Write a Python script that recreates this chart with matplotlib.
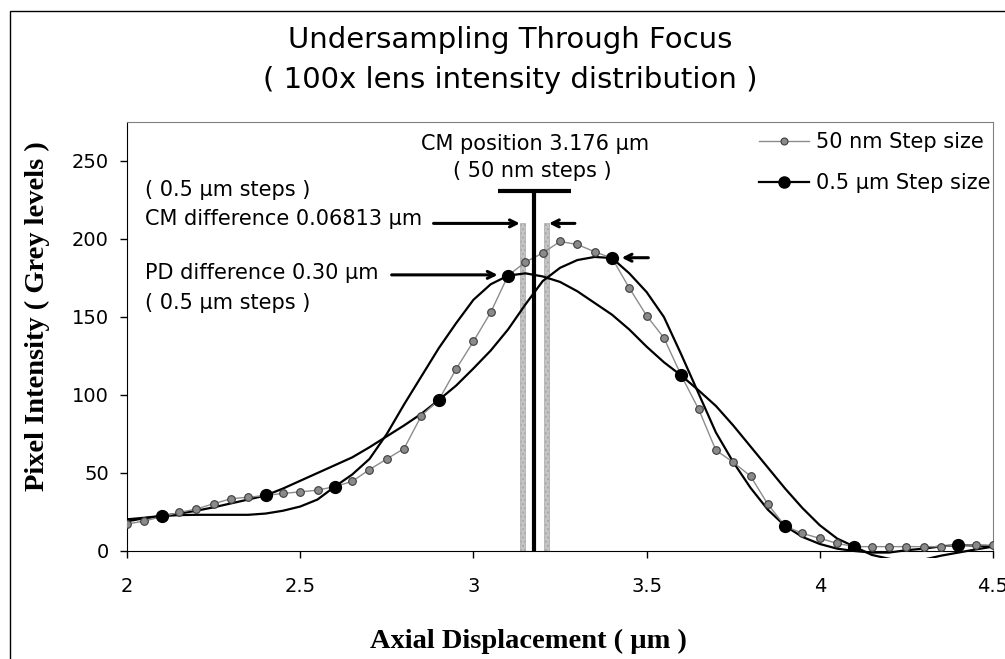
import matplotlib
matplotlib.use("Agg")
import matplotlib.pyplot as plt
from matplotlib.lines import Line2D
from matplotlib.patches import Rectangle
from matplotlib.transforms import Bbox, TransformedBbox

plt.rcParams['font.family'] = ['DejaVu Sans']

# axial positions of the 50 nm scan (um)
z_fine = [2.00, 2.05, 2.10, 2.15, 2.20, 2.25, 2.30, 2.35, 2.40, 2.45,
          2.50, 2.55, 2.60, 2.65, 2.70, 2.75, 2.80, 2.85, 2.90, 2.95,
          3.00, 3.05, 3.10, 3.15, 3.20, 3.25, 3.30, 3.35, 3.40, 3.45,
          3.50, 3.55, 3.60, 3.65, 3.70, 3.75, 3.80, 3.85, 3.90, 3.95,
          4.00, 4.05, 4.10, 4.15, 4.20, 4.25, 4.30, 4.35, 4.40, 4.45,
          4.50]

# 50 nm step intensities (grey levels)
i_fine = [17.3, 19.2, 22.0, 24.7, 26.9, 30.3, 33.5, 34.5, 35.6, 36.9,
          37.9, 39.0, 41.3, 44.6, 52.2, 59.0, 65.7, 86.8, 96.8, 116.6,
          134.3, 153.0, 176.5, 185.2, 191.0, 198.4, 196.5, 191.8, 187.8, 168.6,
          150.9, 136.6, 112.5, 91.0, 64.6, 56.9, 48.0, 30.0, 16.0, 11.3,
          8.1, 4.9, 2.8, 2.8, 2.8, 2.8, 2.8, 2.8, 3.8, 3.8,
          3.8]

# 0.5 um step samples, two interleaved sets
z_set_a = [2.1, 2.6, 3.1, 3.6, 4.1]
i_set_a = [22.4, 41.3, 176.5, 112.5, 2.8]
z_set_b = [2.4, 2.9, 3.4, 3.9, 4.4]
i_set_b = [35.6, 96.8, 187.8, 16.0, 3.8]

# smoothed reconstructions of each 0.5 um set, read at the 50 nm positions
curve_a = [19.0, 21.0, 22.4, 23.0, 23.2, 23.2, 23.2, 23.2, 24.0, 25.8,
           28.5, 33.0, 41.3, 49.0, 59.0, 75.0, 94.0, 112.0, 130.0, 146.0,
           161.0, 171.0, 176.5, 178.0, 176.0, 172.5, 166.5, 159.0, 151.5, 142.0,
           131.0, 121.0, 112.5, 103.0, 93.0, 80.5, 67.0, 53.5, 40.0, 27.5,
           16.5, 8.0, 2.8, -2.5, -5.0, -6.5, -5.5, -3.0, -1.0, 1.0,
           2.8]
curve_b = [20.3, 21.3, 22.5, 24.0, 25.8, 28.0, 30.5, 33.0, 35.6, 40.0,
           45.0, 50.0, 55.0, 60.0, 66.5, 73.5, 80.5, 88.0, 96.8, 106.0,
           117.0, 128.5, 142.0, 158.0, 173.0, 181.5, 186.5, 188.5, 187.8, 178.0,
           166.0, 150.0, 126.0, 101.0, 76.0, 57.0, 40.5, 26.5, 16.0, 9.0,
           4.5, 1.5, 0.0, -1.0, -1.0, 0.5, 1.5, 3.0, 3.8, 3.5,
           3.0]

cm_position = 3.176
cm_half_steps = [3.142, 3.210]
cm_bar_top = 210
cm_line_top = 231

fig = plt.figure(figsize=(10.05, 6.59), dpi=100)
ax = fig.add_axes([127 / 1005, 1 - 551 / 659, 866 / 1005, 429 / 659])

# let the curves dip a few pixels below the axis like the original
clip = TransformedBbox(Bbox([[0, -0.016], [1, 1]]), ax.transAxes)

ax.bar(cm_half_steps, [cm_bar_top] * 2, width=0.015, color='#c4c4c4',
       edgecolor='#a8a8a8', linewidth=0.5, hatch='....', zorder=1)

for curve in (curve_a, curve_b):
    ln, = ax.plot(z_fine, curve, color='black', lw=1.6, zorder=2)
    ln.set_clip_box(clip)

ax.plot(z_fine, i_fine, color='#8c8c8c', lw=1, marker='o', ms=5.5,
        mfc='#8a8a8a', mec='#3c3c3c', mew=0.8, zorder=3)
ax.plot(z_set_a + z_set_b, i_set_a + i_set_b, linestyle='none', marker='o',
        ms=8.5, color='black', zorder=4)

ax.vlines(cm_position, 0, cm_line_top, color='black', lw=3, zorder=5)
ax.hlines(cm_line_top, cm_position - 0.105, cm_position + 0.105, color='black', lw=3, zorder=5)

arrow = dict(arrowstyle='->,head_length=0.5,head_width=0.25', color='black',
             lw=2.2, shrinkA=0, shrinkB=0)
ax.annotate('', xy=(3.134, cm_bar_top), xytext=(2.885, cm_bar_top), arrowprops=arrow)
ax.annotate('', xy=(3.218, cm_bar_top), xytext=(3.293, cm_bar_top), arrowprops=arrow)
ax.annotate('', xy=(3.07, 177), xytext=(2.764, 177), arrowprops=arrow)
ax.annotate('', xy=(3.428, 188), xytext=(3.505, 188), arrowprops=arrow)

ax.text(2.052, 231.5, '( 0.5 µm steps )', fontsize=15, va='center')
ax.text(2.052, 213, 'CM difference 0.06813 µm', fontsize=15, va='center')
ax.text(2.052, 178.5, 'PD difference 0.30 µm', fontsize=15, va='center')
ax.text(2.052, 159, '( 0.5 µm steps )', fontsize=15, va='center')
ax.text(3.178, 261, 'CM position 3.176 µm', fontsize=15, ha='center', va='center')
ax.text(3.169, 243.5, '( 50 nm steps )', fontsize=15, ha='center', va='center')

ax.set_xlim(2, 4.5)
ax.set_ylim(0, 275)
ax.set_xticks([2, 2.5, 3, 3.5, 4, 4.5])
ax.set_xticklabels(['2', '2.5', '3', '3.5', '4', '4.5'])
ax.set_yticks([0, 50, 100, 150, 200, 250])
ax.tick_params(axis='both', direction='out', length=5, width=1, labelsize=14, color='black')
ax.tick_params(axis='y', pad=8)
ax.tick_params(axis='x', pad=14)
for side in ('top', 'right'):
    ax.spines[side].set_color('#808080')
for side in ('left', 'bottom'):
    ax.spines[side].set_color('black')

handles = [
    Line2D([], [], color='#8c8c8c', lw=1, marker='o', ms=5, mfc='#8a8a8a', mec='#3c3c3c', mew=0.8),
    Line2D([], [], color='black', lw=1.6, marker='o', ms=8),
]
ax.legend(handles, ['50 nm Step size', '0.5 µm Step size'], loc='upper right',
          bbox_to_anchor=(990 / 1005, 1 - 132 / 659), bbox_transform=fig.transFigure,
          frameon=False, fontsize=15, handlelength=2.4, handletextpad=0.3,
          labelspacing=1.0, borderpad=0, borderaxespad=0)

fig.text(510 / 1005, 1 - 40 / 659, 'Undersampling Through Focus', fontsize=21, ha='center', va='center')
fig.text(510 / 1005, 1 - 80 / 659, '( 100x lens intensity distribution )', fontsize=21, ha='center', va='center')
fig.text(37 / 1005, 1 - 316 / 659, 'Pixel Intensity ( Grey levels )', rotation=90, ha='center', va='center',
         fontsize=20.5, fontweight='bold', family=['Liberation Serif', 'DejaVu Serif'])
fig.text(528 / 1005, 1 - 641 / 659, 'Axial Displacement ( µm )', ha='center', va='center',
         fontsize=20.5, fontweight='bold', family=['Liberation Serif', 'DejaVu Serif'])

# outer chart frame, cut off at the right and bottom as in the original
fig.patches.append(Rectangle((10 / 1005, -0.1), 1.2, 1.1 - 11 / 659, fill=False,
                             edgecolor='black', lw=1, transform=fig.transFigure, figure=fig))

fig.savefig('out.png', dpi=100)
